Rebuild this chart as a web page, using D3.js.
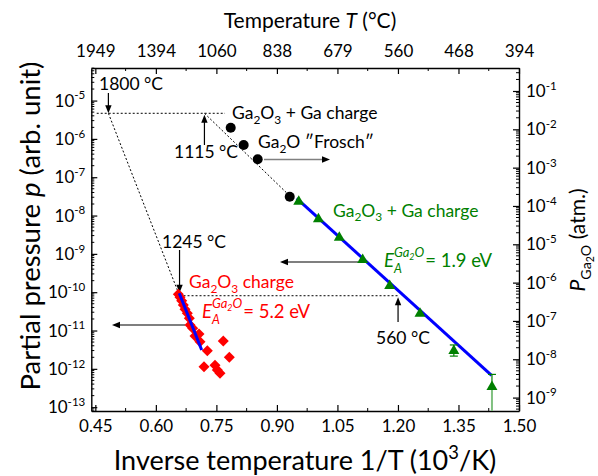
<!DOCTYPE html>
<html>
<head>
<meta charset="utf-8">
<script src="https://cdn.jsdelivr.net/npm/d3@7"></script>
<style>
body { margin: 0; background: #fff; }
text { font-family: Lato, "Open Sans", sans-serif; }
</style>
</head>
<body>
<script>
// ---- data (x = 1/T in 10^3/K, p in arb. unit) ----
var froschX = [0.7855, 0.8176, 0.8524, 0.9318];
var froschP = [1.96e-6, 6.93e-7, 2.93e-7, 3.10e-8];

var gaChargeX = [0.9541, 1.0029, 1.0546, 1.1126, 1.1795, 1.2546, 1.3385, 1.4330];
var gaChargeP = [2.44e-8, 8.47e-9, 2.81e-9, 7.35e-10, 1.54e-10, 2.91e-11, 3.10e-12, 3.56e-13];
var gaChargeErrHi = [0, 0, 0, 0, 0, 0, 1.1e-12, 3.6e-13];
var gaChargeErrLo = [0, 0, 0, 0, 0, 0, 0.95e-12, 1e-20];

var o3ChargeX = [0.6556, 0.6598, 0.6640, 0.6680, 0.6722, 0.6779, 0.6829, 0.6846, 0.6913, 0.6970,
                 0.7069, 0.7094, 0.7275, 0.7671, 0.7820, 0.7193, 0.7466, 0.7523, 0.7590];
var o3ChargeP = [8.79e-11, 7.35e-11, 5.98e-11, 4.62e-11, 3.57e-11, 2.81e-11, 2.08e-11, 1.39e-11, 1.14e-11, 7.18e-12,
                 8.09e-12, 5.09e-12, 2.97e-12, 5.32e-12, 2.00e-12, 1.14e-12, 1.24e-12, 9.31e-13, 7.64e-13];

var fitGreenX = [0.949, 1.432];
var fitGreenP = [2.82e-8, 6.76e-13];
var fitRedX = [0.658, 0.7136];
var fitRedP = [9.35e-11, 3.10e-12];

var xTicks = [0.45, 0.60, 0.75, 0.90, 1.05, 1.20, 1.35, 1.50];
var topTickLabels = ["1949", "1394", "1060", "838", "679", "560", "468", "394"];
var leftDecades = [-13, -12, -11, -10, -9, -8, -7, -6, -5];
var rightDecades = [-9, -8, -7, -6, -5, -4, -3, -2, -1];

// guide levels
var pHigh = 4.66e-6, pLow = 8.09e-11;

var W = 598, H = 476;
var M = {l: 91.3, r: 519, t: 68, b: 411};

var svg = d3.select("body").append("svg").attr("width", W).attr("height", H);

var x = d3.scaleLinear().domain([0.44, 1.5]).range([M.l, M.r]);
var yL = d3.scaleLog().domain([Math.pow(10, -13.1), Math.pow(10, -4.15)]).range([M.b, M.t]);
var yR = d3.scaleLog().domain([Math.pow(10, -9.35), Math.pow(10, -0.40)]).range([M.b, M.t]);

function invT(c) { return 1000 / (c + 273.15); }

// rich text: parts = [[text, mode]], mode in "", "sub", "sup", "i", "isub", "isup", "subsub"
function rich(sel, parts, size) {
  var t = sel.append("text").attr("font-size", size);
  var shift = 0;
  parts.forEach(function(p) {
    var m = p[1] || "";
    var target = 0, fs = size;
    if (m.indexOf("sub") >= 0) { target = size * 0.28; fs = size * 0.68; }
    if (m.indexOf("sup") >= 0) { target = -size * 0.42; fs = size * 0.68; }
    if (m == "subsub") { target = size * 0.42; fs = size * 0.5; }
    var s = t.append("tspan").text(p[0]).attr("font-size", fs);
    if (target - shift != 0) s.attr("dy", target - shift);
    shift = target;
    if (m.charAt(0) == "i") s.attr("font-style", "italic");
  });
  return t;
}

// ---- axes ----
function styleAxis(g) {
  g.selectAll("path").attr("stroke", "#000").attr("stroke-width", 1.4);
  g.selectAll("line").attr("stroke", "#000").attr("stroke-width", 1.2);
}

svg.append("g").attr("transform", "translate(0," + M.b + ")")
  .call(d3.axisBottom(x).tickValues(xTicks).tickFormat(d3.format(".2f"))
    .tickSizeInner(-6).tickSizeOuter(0).tickPadding(9))
  .call(styleAxis)
  .call(function(g) { g.selectAll("text").attr("font-size", 17).attr("font-family", "Lato").attr("fill", "#000"); });

svg.append("g").attr("transform", "translate(0," + M.t + ")")
  .call(d3.axisTop(x).tickValues(xTicks).tickFormat(function(d, i) { return topTickLabels[i]; })
    .tickSizeInner(-6).tickSizeOuter(0).tickPadding(11))
  .call(styleAxis)
  .call(function(g) { g.selectAll("text").attr("font-size", 17).attr("font-family", "Lato").attr("fill", "#000"); });

// x minor ticks
var xMinor = xTicks.slice(0, -1).map(function(d) { return d + 0.075; });
svg.append("g").selectAll("line.xm").data(xMinor).enter().append("line")
  .attr("x1", x).attr("x2", x).attr("y1", M.b).attr("y2", M.b - 3).attr("stroke", "#000");
svg.append("g").selectAll("line.xm").data(xMinor).enter().append("line")
  .attr("x1", x).attr("x2", x).attr("y1", M.t).attr("y2", M.t + 3).attr("stroke", "#000");

svg.append("g").attr("transform", "translate(" + M.l + ",0)")
  .call(d3.axisLeft(yL).tickValues(leftDecades.map(function(d) { return Math.pow(10, d); }))
    .tickFormat("").tickSizeInner(-6).tickSizeOuter(0))
  .call(styleAxis);
svg.append("g").attr("transform", "translate(" + M.r + ",0)")
  .call(d3.axisRight(yR).tickValues(rightDecades.map(function(d) { return Math.pow(10, d); }))
    .tickFormat("").tickSizeInner(-6).tickSizeOuter(0))
  .call(styleAxis);

function logMinor(scale) {
  var dom = scale.domain(), out = [];
  for (var e = -15; e <= 0; e++) for (var k = 2; k <= 9; k++) {
    var v = k * Math.pow(10, e);
    if (v > dom[0] && v < dom[1]) out.push(v);
  }
  return out;
}
svg.append("g").selectAll("line").data(logMinor(yL)).enter().append("line")
  .attr("x1", M.l).attr("x2", M.l + 3).attr("y1", yL).attr("y2", yL).attr("stroke", "#000");
svg.append("g").selectAll("line").data(logMinor(yR)).enter().append("line")
  .attr("x1", M.r).attr("x2", M.r - 3).attr("y1", yR).attr("y2", yR).attr("stroke", "#000");

leftDecades.forEach(function(d) {
  var t = rich(svg, [["10", ""], [String(d), "sup"]], 17);
  t.attr("x", M.l - 6).attr("y", yL(Math.pow(10, d)) + 6).attr("text-anchor", "end");
});
rightDecades.forEach(function(d) {
  var t = rich(svg, [["10", ""], [String(d), "sup"]], 17);
  t.attr("x", M.r + 7).attr("y", yR(Math.pow(10, d)) + 6);
});

// axis titles
rich(svg, [["Inverse temperature 1/T (10", ""], ["3", "sup"], ["/K)", ""]], 27)
  .attr("x", 305).attr("y", 470).attr("text-anchor", "middle");
rich(svg, [["Temperature ", ""], ["T", "i"], [" (\u00b0C)", ""]], 21)
  .attr("x", 310).attr("y", 28).attr("text-anchor", "middle");
rich(svg, [["Partial pressure ", ""], ["p", "i"], [" (arb. unit)", ""]], 27.5)
  .attr("text-anchor", "middle").attr("transform", "translate(40,226) rotate(-90)");
rich(svg, [["P", "i"], ["Ga", "sub"], ["2", "subsub"], ["O", "sub"], [" (atm.)", ""]], 21)
  .attr("text-anchor", "middle").attr("transform", "translate(585,240) rotate(-90)");

// ---- guide lines ----
function dotted(x1, y1, x2, y2) {
  svg.append("line").attr("x1", x1).attr("y1", y1).attr("x2", x2).attr("y2", y2)
    .attr("stroke", "#000").attr("stroke-width", 1).attr("stroke-dasharray", "2,2");
}
function arrow(x1, y1, x2, y2, col, w) {
  col = col || "#000";
  var a = Math.atan2(y2 - y1, x2 - x1), L = 8, hw = 3.2;
  svg.append("line").attr("x1", x1).attr("y1", y1)
    .attr("x2", x2 - Math.cos(a) * L * 0.6).attr("y2", y2 - Math.sin(a) * L * 0.6)
    .attr("stroke", col).attr("stroke-width", w || 1.2);
  var bx = x2 - Math.cos(a) * L, by = y2 - Math.sin(a) * L;
  svg.append("path").attr("d", "M" + x2 + "," + y2 +
    "L" + (bx - Math.sin(a) * hw) + "," + (by + Math.cos(a) * hw) +
    "L" + (bx + Math.sin(a) * hw) + "," + (by - Math.cos(a) * hw) + "Z")
    .attr("fill", "#000");
}

dotted(x(0.4534), yL(pHigh), x(0.7714), yL(pHigh));
dotted(x(invT(1800)), yL(pHigh), x(invT(1245)), yL(pLow));
dotted(x(invT(1115)), yL(pHigh), x(0.9399), yL(Math.pow(10, -7.569)));
dotted(x(invT(1245)), yL(pLow), x(invT(560)), yL(pLow));

arrow(x(invT(1800)), 93, x(invT(1800)), yL(pHigh));
arrow(x(invT(1115)), 145, x(invT(1115)), yL(pHigh) + 1.5);
arrow(x(invT(1245)), 250, x(invT(1245)), yL(pLow) - 3);
arrow(x(invT(560)), 322, x(invT(560)), yL(pLow) + 1.5);
arrow(358, 262, 280, 262);
arrow(185, 325, 112, 325);
arrow(264, 159.5, 330, 159.5, "#808080", 1.6);

function label(str, xx, yy, col, anchor) {
  return svg.append("text").attr("x", xx).attr("y", yy).attr("font-size", 17.5)
    .attr("fill", col || "#000").attr("text-anchor", anchor || "start").text(str);
}
label("1800 \u00b0C", 99, 89.5);
label("1115 \u00b0C", 206, 157.5, "#000", "middle");
label("1245 \u00b0C", 194, 247.5, "#000", "middle");
label("560 \u00b0C", 403, 344, "#000", "middle");

rich(svg, [["Ga", ""], ["2", "sub"], ["O", ""], ["3", "sub"], [" + Ga charge", ""]], 17.5)
  .attr("x", 232).attr("y", 119);
rich(svg, [["Ga", ""], ["2", "sub"], ["O \u2033Frosch\u2033", ""]], 17.5)
  .attr("x", 258).attr("y", 148);
rich(svg, [["Ga", ""], ["2", "sub"], ["O", ""], ["3", "sub"], [" + Ga charge", ""]], 17.5)
  .attr("x", 333).attr("y", 216.5).attr("fill", "#008000");
rich(svg, [["Ga", ""], ["2", "sub"], ["O", ""], ["3", "sub"], [" charge", ""]], 17.5)
  .attr("x", 189).attr("y", 288).attr("fill", "#ff0000");

function eaLabel(xx, yy, col, rest) {
  var g = svg.append("g").attr("fill", col);
  var e = g.append("text").attr("x", xx).attr("y", yy).attr("font-size", 18.5)
    .attr("font-style", "italic").text("E");
  var we = e.node().getComputedTextLength();
  var a = g.append("text").attr("x", xx + we).attr("y", yy + 6).attr("font-size", 12.5)
    .attr("font-style", "italic").text("A");
  var sp = rich(g, [["Ga", "i"], ["2", "isub"], ["O", "i"]], 13)
    .attr("x", xx + we).attr("y", yy - 10.5);
  var w2 = Math.max(a.node().getComputedTextLength(), sp.node().getComputedTextLength());
  g.append("text").attr("x", xx + we + w2 + 1).attr("y", yy).attr("font-size", 18.5).text(rest);
}
eaLabel(384, 267, "#008000", "= 1.9 eV");
eaLabel(202, 318, "#ff0000", " = 5.2 eV");

// ---- data marks ----
var o3 = d3.zip(o3ChargeX, o3ChargeP);
svg.append("g").selectAll("path").data(o3).enter().append("path")
  .attr("transform", function(d) { return "translate(" + x(d[0]) + "," + yL(d[1]) + ")"; })
  .attr("d", "M0,-5.5L5.5,0L0,5.5L-5.5,0Z").attr("fill", "#ff0000");

var fitLine = d3.line().x(function(d) { return x(d[0]); }).y(function(d) { return yL(d[1]); });
svg.append("path").datum(d3.zip(fitRedX, fitRedP)).attr("d", fitLine)
  .attr("stroke", "#0000ff").attr("stroke-width", 3).attr("fill", "none");
svg.append("path").datum(d3.zip(fitGreenX, fitGreenP)).attr("d", fitLine)
  .attr("stroke", "#0000ff").attr("stroke-width", 3).attr("fill", "none");

var ga = gaChargeX.map(function(v, i) {
  return {x: v, p: gaChargeP[i], hi: gaChargeErrHi[i], lo: gaChargeErrLo[i]};
});
var eb = svg.append("g");
ga.filter(function(d) { return d.hi > 0; }).forEach(function(d, i, arr) {
  var xx = x(d.x), yt = yL(d.p + d.hi), yb = Math.min(M.b, yL(Math.max(d.p - d.lo, 1e-20)));
  var last = i == arr.length - 1;
  eb.append("line").attr("x1", xx).attr("x2", xx).attr("y1", yt).attr("y2", last ? yL(d.p) : yb)
    .attr("stroke", "#008000").attr("stroke-width", 1.2);
  if (last) {
    eb.append("line").attr("x1", xx).attr("x2", xx).attr("y1", yL(d.p)).attr("y2", M.b)
      .attr("stroke", "#80c080").attr("stroke-width", 2);
  }
  eb.append("line").attr("x1", xx - 4).attr("x2", xx + 4).attr("y1", yt).attr("y2", yt)
    .attr("stroke", "#008000").attr("stroke-width", 1.2);
  if (!last) eb.append("line").attr("x1", xx - 4).attr("x2", xx + 4).attr("y1", yb).attr("y2", yb)
    .attr("stroke", "#008000").attr("stroke-width", 1.2);
});

svg.append("g").selectAll("path").data(ga).enter().append("path")
  .attr("transform", function(d) { return "translate(" + x(d.x) + "," + yL(d.p) + ")"; })
  .attr("d", "M0,-5.5L5.5,4L-5.5,4Z").attr("fill", "#008000");

svg.append("g").selectAll("circle").data(d3.zip(froschX, froschP)).enter().append("circle")
  .attr("cx", function(d) { return x(d[0]); }).attr("cy", function(d) { return yL(d[1]); })
  .attr("r", 5).attr("fill", "#000");
</script>
</body>
</html>
